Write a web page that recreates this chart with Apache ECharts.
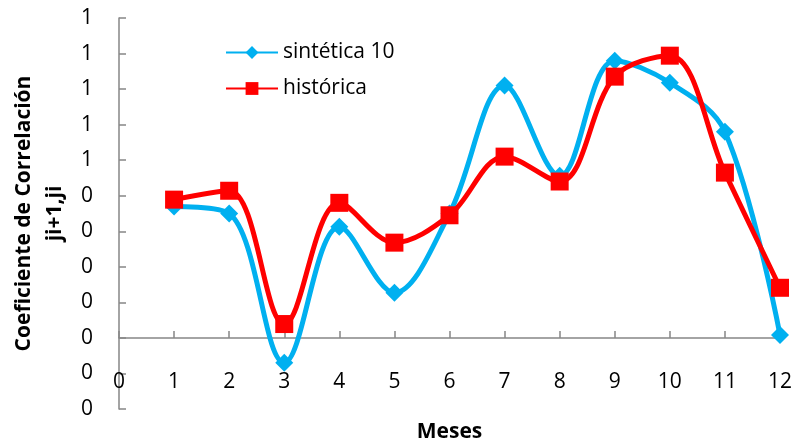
<!DOCTYPE html>
<html>
<head>
<meta charset="utf-8">
<script src="https://cdn.jsdelivr.net/npm/echarts@6/dist/echarts.min.js"></script>
<style>
  html, body { margin: 0; padding: 0; background: #fff; }
  #chart { width: 794px; height: 445px; }
</style>
</head>
<body>
<div id="chart"></div>
<script>
// meses 1..12
const meses = [1, 2, 3, 4, 5, 6, 7, 8, 9, 10, 11, 12];
const sintetica = [0.37, 0.35, -0.07, 0.313, 0.127, 0.35, 0.71, 0.456, 0.78, 0.718, 0.58, 0.008];
const historica = [0.389, 0.414, 0.039, 0.38, 0.268, 0.345, 0.51, 0.44, 0.735, 0.794, 0.465, 0.141];

const font = "'Open Sans', Lato, sans-serif";
const axisGray = "#868686";

var myChart = echarts.init(document.getElementById("chart"));
var option = {
  backgroundColor: "#fff",
  animation: false,
  grid: {
    left: 119,
    right: 14,
    top: 18,
    bottom: 36,
    containLabel: false,
    outerBoundsMode: "none",
  },
  legend: {
    orient: "vertical",
    left: 220,
    top: 37,
    itemWidth: 52,
    itemHeight: 16,
    itemGap: 15,
    textStyle: {
      fontFamily: font,
      fontSize: 21,
      color: "#000",
    },
    data: ["sintética 10", "histórica"],
  },
  xAxis: {
    type: "value",
    min: 0,
    max: 12,
    interval: 1,
    name: "Meses",
    nameLocation: "middle",
    nameGap: 13,
    nameTextStyle: {
      fontFamily: font,
      fontSize: 21,
      fontWeight: "bold",
      color: "#000",
    },
    axisLine: {
      show: true,
      onZero: true,
      lineStyle: { color: axisGray, width: 1.5 },
    },
    axisTick: {
      show: true,
      inside: true,
      length: 7,
      lineStyle: { color: axisGray, width: 1.5 },
    },
    axisLabel: {
      margin: -37,
      fontFamily: font,
      fontSize: 21,
      color: "#000",
    },
    splitLine: { show: false },
  },
  yAxis: {
    type: "value",
    min: -0.2,
    max: 0.9,
    interval: 0.1,
    name: "Coeficiente de Correlación\nji+1,ji",
    nameLocation: "middle",
    nameGap: 48,
    nameTextStyle: {
      fontFamily: font,
      fontSize: 21,
      fontWeight: "bold",
      color: "#000",
      lineHeight: 31,
    },
    axisLine: {
      show: true,
      lineStyle: { color: axisGray, width: 1.5 },
    },
    axisTick: {
      show: true,
      inside: true,
      length: 7,
      lineStyle: { color: axisGray, width: 1.5 },
    },
    axisLabel: {
      margin: 26,
      fontFamily: font,
      fontSize: 21,
      color: "#000",
      formatter: function (v) {
        return String(Math.abs(Math.round(v)));
      },
    },
    splitLine: { show: false },
  },
  series: [
    {
      name: "sintética 10",
      type: "line",
      smooth: 0.35,
      data: meses.map((m, i) => [m, sintetica[i]]),
      symbol: "diamond",
      symbolSize: 18,
      lineStyle: { color: "#00B0F0", width: 5 },
      itemStyle: { color: "#00B0F0" },
    },
    {
      name: "histórica",
      type: "line",
      smooth: 0.35,
      data: meses.map((m, i) => [m, historica[i]]),
      symbol: "rect",
      symbolSize: 18,
      lineStyle: { color: "#FF0000", width: 5 },
      itemStyle: { color: "#FF0000" },
    },
  ],
};

option && myChart.setOption(option);
</script>
</body>
</html>
